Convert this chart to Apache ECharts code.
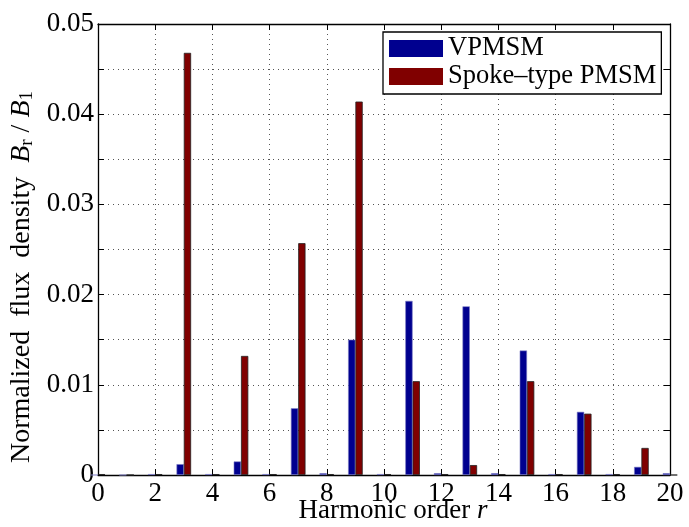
<!DOCTYPE html>
<html>
<head>
<meta charset="utf-8">
<script src="https://cdn.jsdelivr.net/npm/echarts@6/dist/echarts.min.js"></script>
<style>
html,body{margin:0;padding:0;background:#fff;}
#c{width:689px;height:527px;}
</style>
</head>
<body>
<div id="c"></div>
<script>
const harmonics = [0,1,2,3,4,5,6,7,8,9,10,11,12,13,14,15,16,17,18,19,20];
const vpmsm = [0, 0, 0.0001, 0.0012, 0.0001, 0.0015, 0.0001, 0.0074, 0.0002, 0.0150, 0.0001, 0.0193, 0.0002, 0.0187, 0.0002, 0.0138, 0.0001, 0.0070, 0.0001, 0.0009, 0.0002];
const spoke = [0.0001, 0, 0.0001, 0.0468, 0.0001, 0.0132, 0.0001, 0.0257, 0.0001, 0.0414, 0.0001, 0.0104, 0.0001, 0.0011, 0.0001, 0.0104, 0.0001, 0.0068, 0.0001, 0.0030, 0];
const xTicks = [0,2,4,6,8,10,12,14,16,18,20];
const yTicks = ['0','0.01','0.02','0.03','0.04','0.05'];

const FONT = "'Liberation Serif','Times New Roman',serif";
const chart = echarts.init(document.getElementById('c'), null, {renderer:'canvas'});

const gridLine = {show:true, lineStyle:{color:'#555', width:1, type:[1,4]}};
const axisLine = {show:true, onZero:false, lineStyle:{color:'#000', width:1.3}};
const tick = {show:true, inside:true, length:6, lineStyle:{color:'#000', width:1}};

function yFmt(v){
  const k = Math.round(v*1000);
  if (k % 10 !== 0) return '';
  const s = k===0 ? '0' : (k/1000).toFixed(2);
  return yTicks.indexOf(s) >= 0 ? s : '';
}
function xFmt(v){
  return xTicks.indexOf(Math.round(v)) >= 0 ? String(Math.round(v)) : '';
}

chart.setOption({
  animation:false,
  backgroundColor:'#fff',
  grid:{left:98, right:19, top:24, bottom:52, containLabel:false, outerBoundsMode:'none'},
  legend:{
    orient:'vertical', left:383, top:32,
    padding:[3,5,4,6], itemGap:1,
    itemWidth:54, itemHeight:17, icon:'rect',
    borderColor:'#000', borderWidth:1.3, backgroundColor:'#fff',
    textStyle:{fontFamily:FONT, fontSize:26.5, color:'#000', lineHeight:24},
    itemStyle:{borderWidth:0},
    data:['VPMSM','Spoke–type PMSM']
  },
  xAxis:[{
    type:'value', min:0, max:20, interval:2, position:'bottom',
    axisLine:axisLine, axisTick:tick, splitLine:gridLine,
    axisLabel:{fontFamily:FONT, fontSize:27, color:'#000', margin:5, formatter:xFmt},
    name:'{n|Harmonic order }{i|r}', nameLocation:'middle', nameGap:22, nameMoveOverlap:false,
    nameTextStyle:{fontFamily:FONT, fontSize:27, color:'#000', padding:[0,0,0,18],
      rich:{n:{fontFamily:FONT, fontSize:27, color:'#000'}, i:{fontFamily:FONT, fontSize:27, fontStyle:'italic', color:'#000'}}}
  },{
    type:'value', min:0, max:20, interval:2, position:'top',
    axisLine:axisLine, axisTick:tick, splitLine:{show:false}, axisLabel:{show:false}
  }],
  yAxis:[{
    type:'value', min:0, max:0.05, interval:0.005, position:'left',
    axisLine:axisLine, axisTick:tick, splitLine:gridLine,
    axisLabel:{fontFamily:FONT, fontSize:27, color:'#000', margin:4, formatter:yFmt},
    name:'{n|Normalized  flux  density  }{i|B}{s|r}{n| / }{i|B}{s|1}', nameLocation:'middle', nameGap:61, nameRotate:90, nameMoveOverlap:false,
    nameTextStyle:{fontFamily:FONT, fontSize:28, color:'#000', padding:[0,55,0,0],
      rich:{
        n:{fontFamily:FONT, fontSize:28, color:'#000', lineHeight:30},
        i:{fontFamily:FONT, fontSize:28, fontStyle:'italic', color:'#000', lineHeight:30},
        s:{fontFamily:FONT, fontSize:19, color:'#000', lineHeight:30, verticalAlign:'bottom', padding:[11,0,0,0]}
      }}
  },{
    type:'value', min:0, max:0.05, interval:0.005, position:'right',
    axisLine:axisLine, axisTick:tick, splitLine:{show:false}, axisLabel:{show:false}
  }],
  series:[{
    name:'VPMSM', type:'bar', xAxisIndex:0, yAxisIndex:0,
    barWidth:7.3, barGap:'0%',
    itemStyle:{color:'#00008F', borderColor:'#7c7cc4', borderWidth:0.6},
    data:harmonics.map((h,i)=>[h, vpmsm[i]])
  },{
    name:'Spoke–type PMSM', type:'bar', xAxisIndex:0, yAxisIndex:0,
    barWidth:7.3, barGap:'0%',
    itemStyle:{color:'#800000', borderColor:'#222', borderWidth:0.8},
    data:harmonics.map((h,i)=>[h, spoke[i]])
  }]
});
</script>
</body>
</html>
